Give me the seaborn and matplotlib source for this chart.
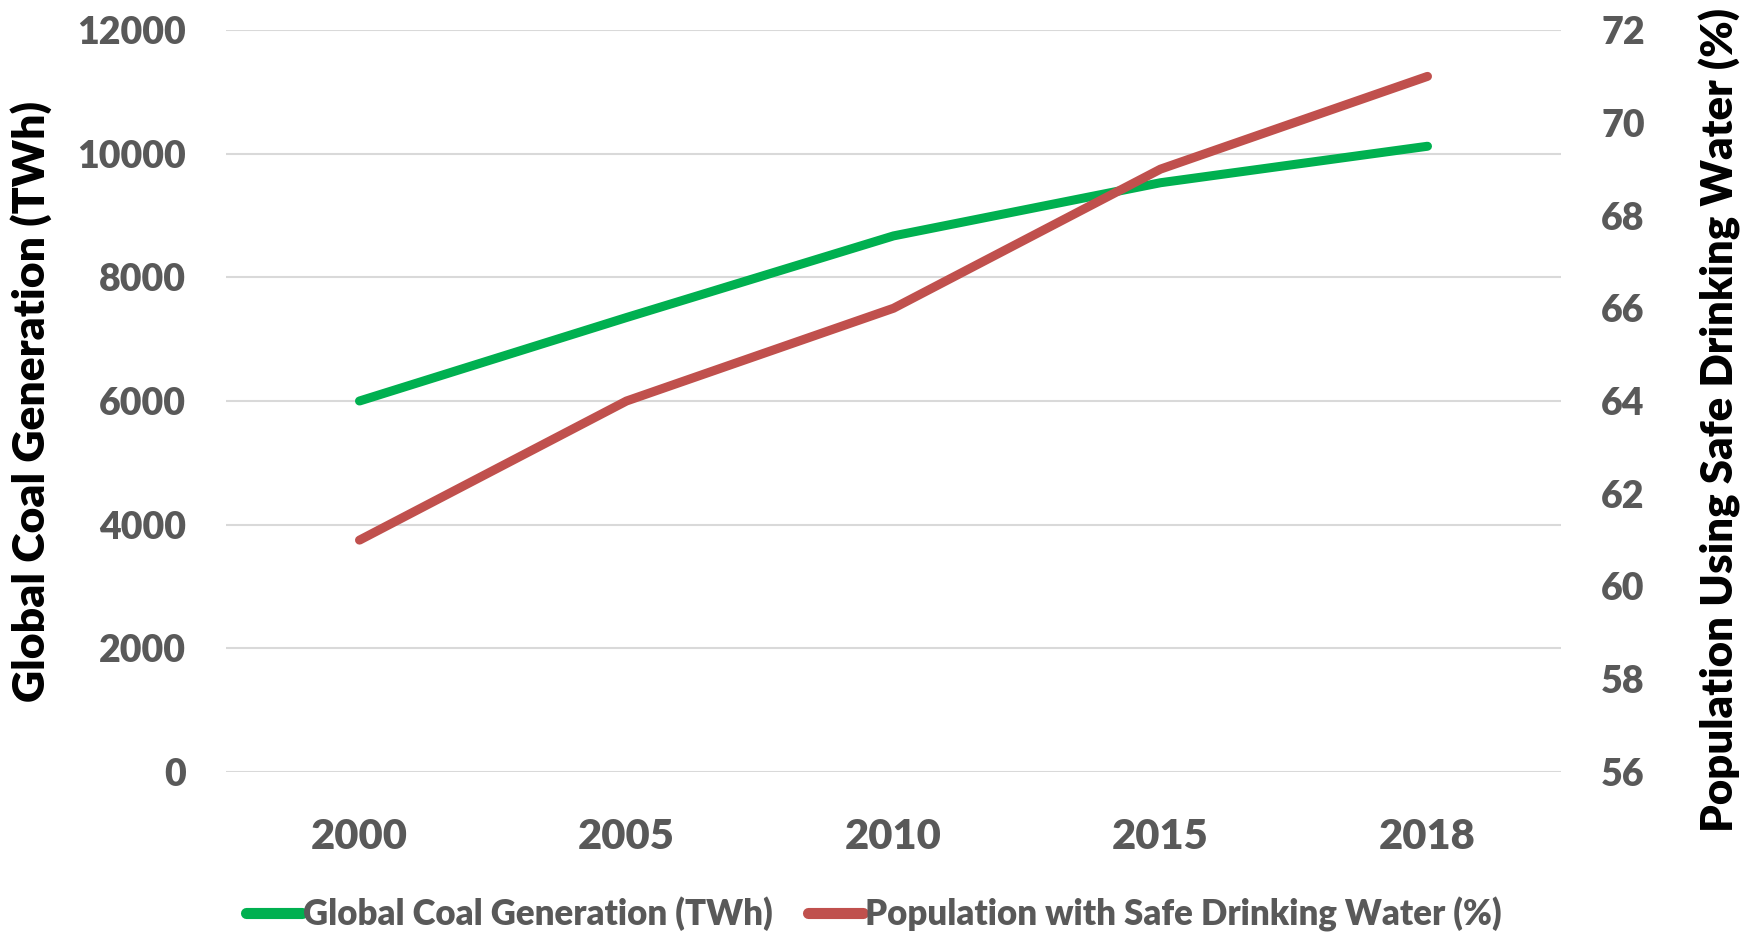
import matplotlib
matplotlib.use("Agg")
import matplotlib.pyplot as plt
import seaborn as sns
import pandas as pd
from matplotlib.lines import Line2D

years = ["2000", "2005", "2010", "2015", "2018"]
coal_twh = [6000, 7350, 8670, 9530, 10120]
water_pct = [61, 64, 66, 69, 71]

left_ticks = [0, 2000, 4000, 6000, 8000, 10000, 12000]
right_ticks = [56, 58, 60, 62, 64, 66, 68, 70, 72]

GREEN = "#00B050"
RED = "#C0504D"
TICK_GREY = "#595959"
WEIGHT = 800

sns.set_style("white")
plt.rcParams["font.family"] = ["Lato", "DejaVu Sans"]
plt.rcParams["font.weight"] = WEIGHT

df = pd.DataFrame({"year": years, "coal": coal_twh, "water": water_pct})
df["pos"] = range(len(years))

fig = plt.figure(figsize=(17.54, 9.32), dpi=100)
ax = fig.add_axes([226 / 1754, 1 - 772 / 932, (1561 - 226) / 1754, (772 - 30) / 932])
ax2 = ax.twinx()

sns.lineplot(data=df, x="pos", y="coal", ax=ax, color=GREEN, linewidth=6.5,
             solid_capstyle="round", solid_joinstyle="miter", zorder=3)
sns.lineplot(data=df, x="pos", y="water", ax=ax2, color=RED, linewidth=6.5,
             solid_capstyle="round", solid_joinstyle="miter", zorder=3)

ax.set_xlim(-0.5, len(years) - 0.5)
ax.set_ylim(0, 12000)
ax2.set_ylim(56, 72)
ax.set_yticks(left_ticks)
ax2.set_yticks(right_ticks)
ax.set_xticks(df["pos"])
ax.set_xticklabels(years)

ax.yaxis.grid(True, color="#D9D9D9", linewidth=1.5)
ax.set_axisbelow(True)
for a in (ax, ax2):
    for s in a.spines.values():
        s.set_visible(False)
    a.tick_params(length=0, labelsize=27, labelcolor=TICK_GREY)
    for lbl in a.get_yticklabels() + a.get_xticklabels():
        lbl.set_fontweight(WEIGHT)

ax.tick_params(axis="y", pad=29)
ax2.tick_params(axis="y", pad=29)
ax.tick_params(axis="x", pad=33, labelsize=30)

ax.set_xlabel("")
ax.set_ylabel("Global Coal Generation (TWh)", fontsize=32, fontweight=WEIGHT,
              color="black", labelpad=18)
ax2.set_ylabel("Population Using Safe Drinking Water (%)", fontsize=31.5,
               fontweight=WEIGHT, color="black", rotation=90)
# the right title sits a little below the plot centre in the reference
ax2.yaxis.set_label_coords((1699 - 226) / 1335, (772 - 420) / 742)

handles = [Line2D([0], [0], color=GREEN, linewidth=8, solid_capstyle="round"),
           Line2D([0], [0], color=RED, linewidth=8, solid_capstyle="round")]
leg = fig.legend(handles, ["Global Coal Generation (TWh)", "Population with Safe Drinking Water (%)"],
                 loc="center", bbox_to_anchor=(874 / 1754, 1 - 914 / 932), ncol=2, frameon=False,
                 handlelength=1.6, handletextpad=0.05, columnspacing=1.0,
                 prop={"weight": WEIGHT, "size": 25})
for t in leg.get_texts():
    t.set_color(TICK_GREY)

fig.savefig("out.png", dpi=100)
